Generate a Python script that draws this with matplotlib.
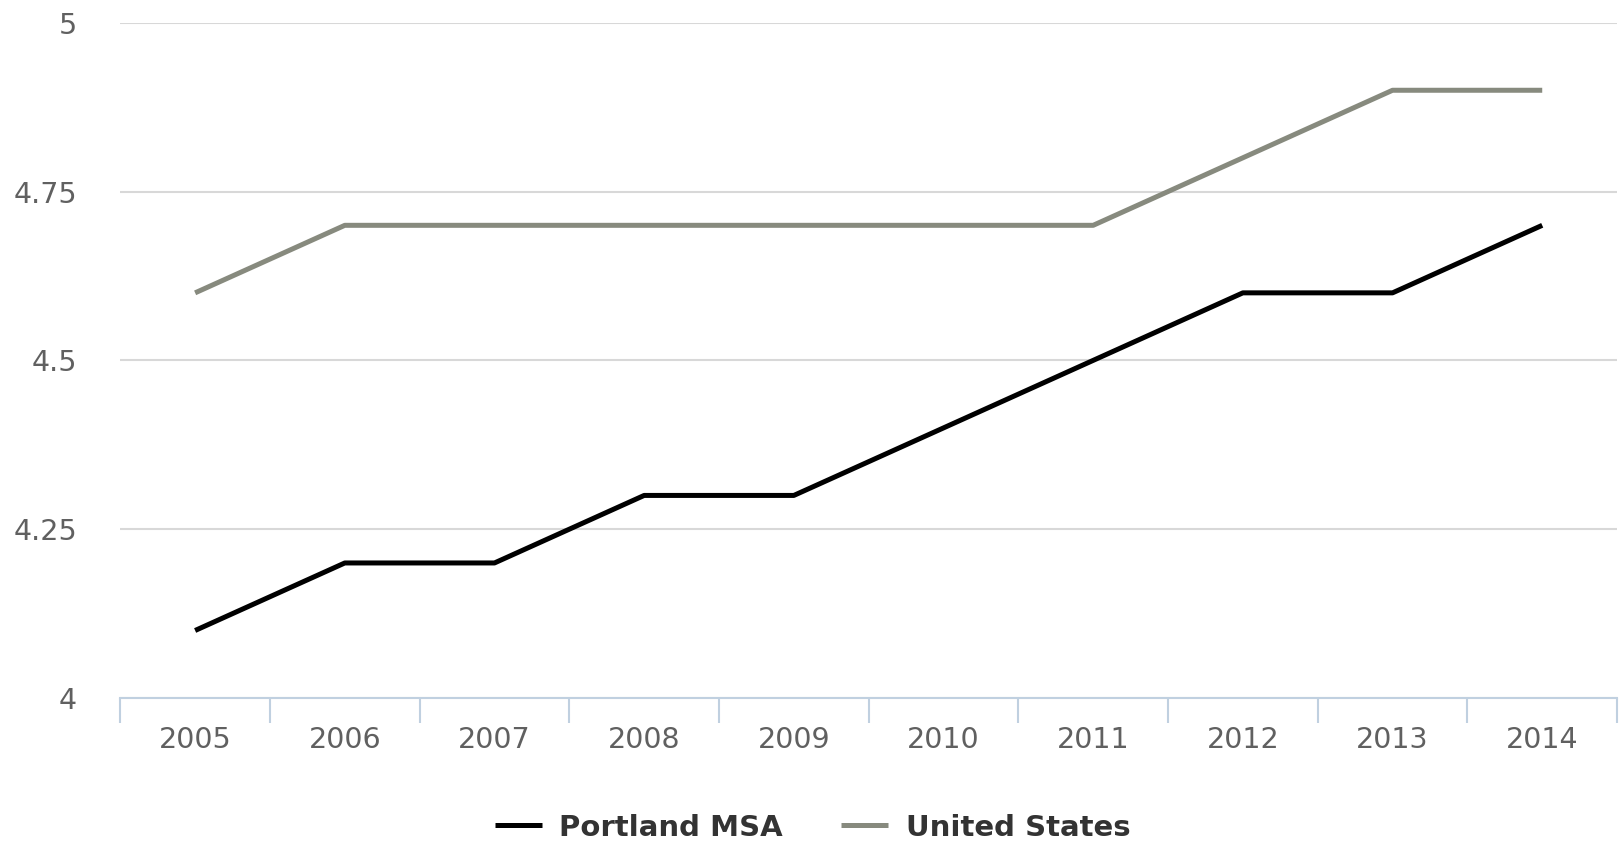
import matplotlib
matplotlib.use("Agg")
import matplotlib.pyplot as plt

years = ["2005", "2006", "2007", "2008", "2009", "2010", "2011", "2012", "2013", "2014"]
portland = [4.1, 4.2, 4.2, 4.3, 4.3, 4.4, 4.5, 4.6, 4.6, 4.7]
united_states = [4.6, 4.7, 4.7, 4.7, 4.7, 4.7, 4.7, 4.8, 4.9, 4.9]
y_ticks = [4, 4.25, 4.5, 4.75, 5]
y_labels = ["4", "4.25", "4.5", "4.75", "5"]

fig = plt.figure(figsize=(16.19, 8.42), dpi=100)
ax = fig.add_axes([0.0743, 0.171, 0.9245, 0.802])

x = list(range(len(years)))
ax.plot(x, portland, color="#000000", lw=3.6, label="Portland MSA", solid_capstyle="butt")
ax.plot(x, united_states, color="#878a7e", lw=3.6, label="United States", solid_capstyle="butt")

ax.set_xlim(-0.5, len(years) - 0.5)
ax.set_ylim(4, 5)
ax.set_yticks(y_ticks)
ax.set_yticklabels(y_labels)
ax.yaxis.grid(True, color="#d8d8d8", lw=1.5)
ax.set_axisbelow(True)

# category labels centred, tick marks on the boundaries
ax.set_xticks(x)
ax.set_xticklabels(years)
ax.set_xticks([i - 0.5 for i in range(len(years) + 1)], minor=True)
ax.tick_params(axis="x", which="major", length=0, pad=20, labelsize=20.5, labelcolor="#606060")
ax.tick_params(axis="x", which="minor", length=18, width=1.5, color="#c0d0e0", direction="out")
ax.tick_params(axis="y", length=0, pad=31, labelsize=20.5, labelcolor="#606060")

for side in ["top", "right", "left"]:
    ax.spines[side].set_visible(False)
ax.spines["bottom"].set_color("#c0d0e0")
ax.spines["bottom"].set_linewidth(1.5)

leg = fig.legend(loc="center", bbox_to_anchor=(0.502, 0.017), ncol=2, frameon=False,
                 prop={"size": 21, "weight": "bold"}, handlelength=1.6,
                 columnspacing=2.0, handletextpad=0.6)
for t in leg.get_texts():
    t.set_color("#333333")

fig.savefig("out.png", dpi=100)
